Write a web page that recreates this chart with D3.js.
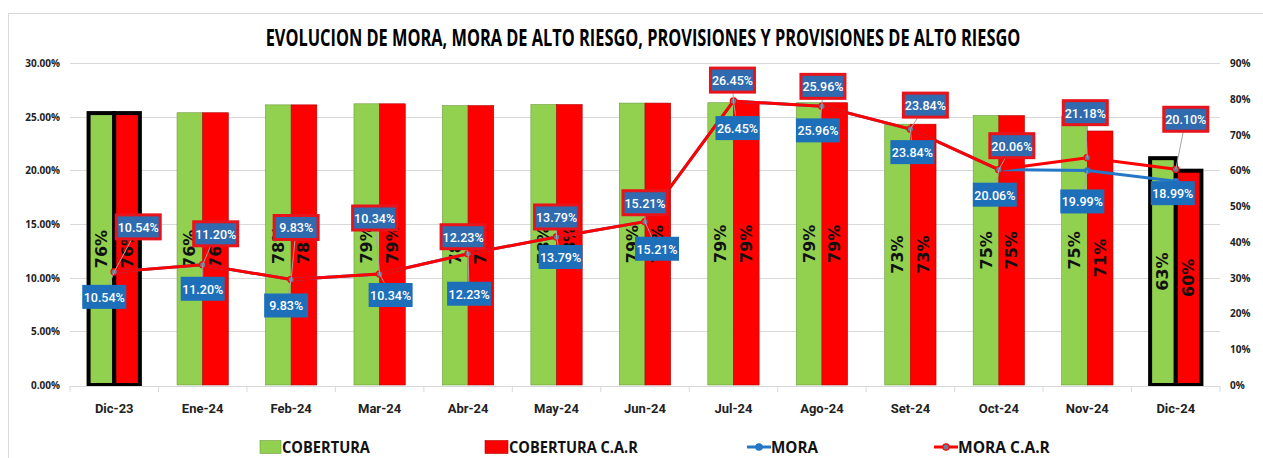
<!DOCTYPE html>
<html>
<head>
<meta charset="utf-8">
<script src="https://cdn.jsdelivr.net/npm/d3@7"></script>
<style>
  body { margin: 0; background: #fff; }
  svg { display: block; }
</style>
</head>
<body>
<div id="chart"></div>
<script>
// Chart size and plot box
const WIDTH = 1263, HEIGHT = 458;
const margin = {top: 63, right: 43, bottom: 73, left: 70};

// Data
const months = ["Dic-23", "Ene-24", "Feb-24", "Mar-24", "Abr-24", "May-24", "Jun-24",
                "Jul-24", "Ago-24", "Set-24", "Oct-24", "Nov-24", "Dic-24"];
const cobertura    = [76.0, 76.1, 78.3, 78.6, 78.1, 78.4, 78.8, 78.9, 78.9, 72.9, 75.3, 75.2, 63.4];
const coberturaCar = [76.0, 76.1, 78.3, 78.6, 78.1, 78.4, 78.8, 78.9, 78.9, 72.9, 75.3, 71.0, 59.9];
const mora    = [10.54, 11.20, 9.83, 10.34, 12.23, 13.79, 15.21, 26.45, 25.96, 23.84, 20.06, 19.99, 18.99];
const moraCar = [10.54, 11.20, 9.83, 10.34, 12.23, 13.79, 15.21, 26.45, 25.96, 23.84, 20.06, 21.18, 20.10];
const leftTicks  = [0, 5, 10, 15, 20, 25, 30];
const rightTicks = [0, 10, 20, 30, 40, 50, 60, 70, 80, 90];
const highlighted = ["Dic-23", "Dic-24"];
const legendNames = ["COBERTURA", "COBERTURA C.A.R", "MORA", "MORA C.A.R"];

// Where the data labels were dragged to (offset from the point, px)
const moraCarLabelOffset = [[24, -45], [13, -31], [5, -52], [-5, -56], [-5, -17], [0, -20], [0, -19],
                            [-1, -21], [1, -20], [15, -24], [13, -24], [-2, -45], [10, -50]];
const moraLabelOffset = [[-10, 25], [0, 24], [-5, 26], [11, 21], [1, 40], [4, 20], [12, 27],
                         [4, 27], [-4, 24], [2, 23], [-4, 25], [-5, 31], [-3, 12]];

const GREEN = "#92D050", RED = "#FF0000", BLUE = "#2577C8";
const GRID = "#d9d9d9";

let svg = d3.select("#chart").append("svg")
    .attr("width", WIDTH)
    .attr("height", HEIGHT);

/**
 * Squeezes a text horizontally so it spans the given width (condensed look)
 */
function squeeze(text, tx, ty, width) {
    let natural = text.node().getComputedTextLength();
    let k = Math.min(1, width / natural);
    text.attr("transform", `translate(${tx}, ${ty}) scale(${k}, 1)`);
}

// outer chart frame
svg.append("rect")
    .attr("x", 8.5).attr("y", 13.5)
    .attr("width", WIDTH + 20).attr("height", HEIGHT + 20)
    .attr("fill", "#fff")
    .attr("stroke", GRID);

let x = d3.scaleBand()
    .domain(months)
    .range([margin.left, WIDTH - margin.right]);
let yLeft = d3.scaleLinear().domain([0, 30]).range([HEIGHT - margin.bottom, margin.top]);
let yRight = d3.scaleLinear().domain([0, 90]).range([HEIGHT - margin.bottom, margin.top]);
const barW = x.bandwidth() * 0.29;
const cx = d => x(d) + x.bandwidth() / 2;

// Gridlines
svg.append("g").selectAll("line").data(leftTicks.slice(1)).enter()
    .append("line")
    .attr("x1", margin.left).attr("x2", WIDTH - margin.right)
    .attr("y1", d => Math.round(yLeft(d)) + 0.5)
    .attr("y2", d => Math.round(yLeft(d)) + 0.5)
    .attr("stroke", GRID);

// Bars
let barData = [];
months.forEach(function(m, i) {
    barData.push({m: m, v: cobertura[i], side: 0});
    barData.push({m: m, v: coberturaCar[i], side: 1});
});
let bars = svg.append("g");
bars.selectAll("rect").data(barData).enter()
    .append("rect")
    .attr("x", d => cx(d.m) - barW + d.side * barW)
    .attr("y", d => yRight(d.v))
    .attr("width", barW)
    .attr("height", d => yRight(0) - yRight(d.v))
    .attr("fill", d => d.side === 0 ? GREEN : RED)
    .attr("stroke", d => highlighted.includes(d.m) ? "#000" : (d.side === 0 ? "#6f9a3c" : "#b00000"))
    .attr("stroke-width", d => highlighted.includes(d.m) ? 4 : 0.6);

// X axis line + ticks between categories
let xAxis = svg.append("g");
xAxis.append("line")
    .attr("x1", margin.left).attr("x2", WIDTH - margin.right)
    .attr("y1", yLeft(0) + 1.5).attr("y2", yLeft(0) + 1.5)
    .attr("stroke", GRID);
xAxis.selectAll(".tick").data(d3.range(months.length + 1)).enter()
    .append("line")
    .attr("x1", i => margin.left + i * x.bandwidth())
    .attr("x2", i => margin.left + i * x.bandwidth())
    .attr("y1", yLeft(0) + 1).attr("y2", yLeft(0) + 7)
    .attr("stroke", GRID);
xAxis.selectAll("text").data(months).enter()
    .append("text")
    .attr("x", d => cx(d))
    .attr("y", yLeft(0) + 28)
    .attr("text-anchor", "middle")
    .style("font-family", "Roboto, sans-serif")
    .style("font-weight", "bold")
    .style("font-size", "13px")
    .style("fill", "#222")
    .text(d => d);

// Bar value labels (rotated)
svg.append("g").selectAll("text").data(barData).enter()
    .append("text")
    .attr("transform", function(d) {
        let bx = cx(d.m) - barW / 2 + d.side * barW;
        let by = (yRight(d.v) + yRight(0)) / 2;
        return `translate(${bx}, ${by}) rotate(-90)`;
    })
    .attr("text-anchor", "middle")
    .attr("dominant-baseline", "central")
    .style("font-family", "'DejaVu Sans', sans-serif")
    .style("font-weight", "bold")
    .style("font-size", "16px")
    .style("fill", "#111")
    .text(d => Math.round(d.v) + "%");

// Lines
let line = d3.line()
    .x(d => cx(d.m))
    .y(d => yLeft(d.v));
let moraPts = months.map((m, i) => ({m: m, v: mora[i]}));
let moraCarPts = months.map((m, i) => ({m: m, v: moraCar[i]}));

svg.append("path").datum(moraPts)
    .attr("d", line)
    .attr("fill", "none")
    .attr("stroke", BLUE)
    .attr("stroke-width", 3);
svg.append("g").selectAll("circle").data(moraPts).enter()
    .append("circle")
    .attr("cx", d => cx(d.m)).attr("cy", d => yLeft(d.v))
    .attr("r", 3.2)
    .attr("fill", BLUE);

svg.append("path").datum(moraCarPts)
    .attr("d", line)
    .attr("fill", "none")
    .attr("stroke", RED)
    .attr("stroke-width", 3);
svg.append("g").selectAll("circle").data(moraCarPts).enter()
    .append("circle")
    .attr("cx", d => cx(d.m)).attr("cy", d => yLeft(d.v))
    .attr("r", 3.2)
    .attr("fill", "#6b7a94")
    .attr("stroke", RED)
    .attr("stroke-width", 1.2);

// Data labels with leader lines
function drawLabels(pts, offsets, fill, border) {
    let g = svg.append("g");
    g.selectAll("line").data(pts).enter()
        .append("line")
        .attr("x1", d => cx(d.m)).attr("y1", d => yLeft(d.v))
        .attr("x2", (d, i) => cx(d.m) + offsets[i][0])
        .attr("y2", (d, i) => yLeft(d.v) + offsets[i][1])
        .attr("stroke", "#a6a6a6")
        .attr("stroke-width", 1);
    let lbl = g.selectAll("g").data(pts).enter()
        .append("g")
        .attr("transform", (d, i) => `translate(${cx(d.m) + offsets[i][0]}, ${yLeft(d.v) + offsets[i][1]})`);
    lbl.append("rect")
        .attr("x", -22).attr("y", -12)
        .attr("width", 44).attr("height", 24)
        .attr("fill", fill)
        .attr("stroke", border || "none")
        .attr("stroke-width", border ? 3 : 0);
    lbl.append("text")
        .attr("text-anchor", "middle")
        .attr("dominant-baseline", "central")
        .attr("y", 0.5)
        .style("font-family", "Roboto, sans-serif")
        .style("font-size", "12.5px")
        .style("font-weight", "500")
        .style("fill", "#fff")
        .text(d => d.v.toFixed(2) + "%");
}
drawLabels(moraPts, moraLabelOffset, "#1E6FBA", null);
drawLabels(moraCarPts, moraCarLabelOffset, "#2F6BAE", "#E8141B");

// Left axis labels
svg.append("g").selectAll("text").data(leftTicks).enter()
    .append("text")
    .attr("x", 60)
    .attr("y", d => yLeft(d))
    .attr("text-anchor", "end")
    .attr("dominant-baseline", "central")
    .style("font-family", "'Open Sans', sans-serif")
    .style("font-weight", "bold")
    .style("font-size", "10px")
    .style("fill", "#222")
    .text(d => d3.format(".2f")(d) + "%");

// Right axis labels
svg.append("g").selectAll("text").data(rightTicks).enter()
    .append("text")
    .attr("x", 1230)
    .attr("y", d => yRight(d))
    .attr("dominant-baseline", "central")
    .style("font-family", "'Open Sans', sans-serif")
    .style("font-weight", "bold")
    .style("font-size", "10px")
    .style("fill", "#222")
    .text(d => d + "%");

// Title
let title = svg.append("text")
    .attr("text-anchor", "middle")
    .style("font-family", "'Open Sans', sans-serif")
    .style("font-weight", "bold")
    .style("font-size", "24px")
    .style("fill", "#000")
    .text("EVOLUCION DE MORA, MORA DE ALTO RIESGO, PROVISIONES Y PROVISIONES DE ALTO RIESGO");
squeeze(title, 643, 46, 755);

// Legend
const legendX = [260, 485, 747, 934];
const legendTextW = [88, 129, 47, 92];
let legend = svg.append("g");
legendNames.forEach(function(name, i) {
    let lx = legendX[i], ly = 447;
    let textX;
    if (i < 2) {
        legend.append("rect")
            .attr("x", lx).attr("y", ly - 6.5)
            .attr("width", i === 0 ? 21 : 23).attr("height", 13)
            .attr("fill", i === 0 ? GREEN : RED)
            .attr("stroke", i === 0 ? "#6f9a3c" : "#b00000")
            .attr("stroke-width", 0.6);
        textX = lx + (i === 0 ? 22 : 24);
    } else {
        let col = i === 2 ? BLUE : RED;
        legend.append("line")
            .attr("x1", lx).attr("x2", lx + 24)
            .attr("y1", ly).attr("y2", ly)
            .attr("stroke", col).attr("stroke-width", 3);
        legend.append("circle")
            .attr("cx", lx + 12).attr("cy", ly).attr("r", 3.2)
            .attr("fill", i === 2 ? BLUE : "#6b7a94")
            .attr("stroke", col).attr("stroke-width", 1.2);
        textX = lx + 24;
    }
    let t = legend.append("text")
        .style("font-family", "'Open Sans', sans-serif")
        .style("font-weight", "bold")
        .style("font-size", "16px")
        .style("fill", "#111")
        .text(name);
    squeeze(t, textX, ly + 6, legendTextW[i]);
});
</script>
</body>
</html>
